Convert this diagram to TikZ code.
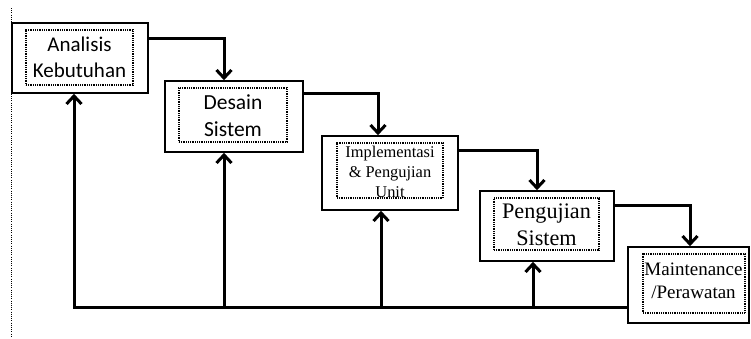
\documentclass[tikz,border=0pt]{standalone}
\usepackage{fontspec}
\newfontfamily\calfont{Carlito}
\newfontfamily\timesfont{Liberation Serif}
\usetikzlibrary{arrows.meta}
\tikzset{
  outerbox/.style={draw=black, line width=1.6pt, fill=white, rectangle, inner sep=0pt},
  innerbox/.style={draw=black, line width=1.1pt, dash pattern=on 0.9pt off 0.9pt, rectangle, inner sep=0pt},
  lbl/.style={align=center, inner sep=0pt, text=black},
  conn/.style={line width=3pt, line cap=rect},
  tip/.style={-{Straight Barb[length=8pt,width=15pt]}}
}
\begin{document}
\begin{tikzpicture}[x=1pt,y=-1pt]
\useasboundingbox (0,0) rectangle (751,338);
\draw[line width=1pt, dash pattern=on 1pt off 1.2pt] (11,8) -- (11,336);
% boxes
\node[outerbox, minimum width=136pt, minimum height=70pt] (a) at (80,58) {};
\node[innerbox, minimum width=107pt, minimum height=55pt] (ai) at (79.5,57.5) {};
\node[lbl, font=\calfont\fontsize{21}{26}\selectfont] (at) at (79.5,57) {Analisis\\Kebutuhan};

\node[outerbox, minimum width=138pt, minimum height=71pt] (b) at (234,116.5) {};
\node[innerbox, minimum width=108pt, minimum height=54pt] (bi) at (233,115) {};
\node[lbl, font=\calfont\fontsize{21.5}{26.5}\selectfont] (bt) at (233,115.5) {Desain\\Sistem};

\node[outerbox, minimum width=136pt, minimum height=74pt] (c) at (390,173) {};
\node[innerbox, minimum width=106pt, minimum height=55pt] (ci) at (390,170.5) {};
\node[lbl, font=\timesfont\fontsize{16.4}{19.8}\selectfont] (ct) at (390,172) {Implementasi\\\& Pengujian\\Unit};

\node[outerbox, minimum width=134pt, minimum height=70pt] (d) at (547,226) {};
\node[innerbox, minimum width=105pt, minimum height=52pt] (di) at (546.5,224) {};
\node[lbl, font=\timesfont\fontsize{22.2}{27}\selectfont] (dt) at (546.5,224.5) {Pengujian\\Sistem};

\node[outerbox, minimum width=121pt, minimum height=76pt] (e) at (688.5,285) {};
\node[innerbox, minimum width=102pt, minimum height=59pt] (ei) at (694,283.5) {};
\node[lbl, font=\timesfont\fontsize{19}{23.5}\selectfont] (et) at (693.5,281) {Maintenance\\/Perawatan};

% forward connectors
\draw[conn, tip] ([yshift=20pt]a.east) -| ([xshift=-10pt]b.north);
\draw[conn, tip] ([yshift=23.5pt]b.east) -| ([xshift=-12pt]c.north);
\draw[conn, tip] ([yshift=23pt]c.east) -| ([xshift=-10pt]d.north);
\draw[conn, tip] ([yshift=21pt]d.east) -| ([xshift=1.5pt]e.north);

% feedback
\coordinate (fb) at ([yshift=-22pt]e.west);
\draw[conn, tip] (fb) -| ([xshift=-6pt]a.south);
\draw[conn, tip] ([xshift=-10pt]b.south |- fb) -- ([xshift=-10pt]b.south);
\draw[conn, tip] ([xshift=-9pt]c.south |- fb) -- ([xshift=-9pt]c.south);
\draw[conn, tip] ([xshift=-14pt]d.south |- fb) -- ([xshift=-14pt]d.south);
\end{tikzpicture}
\end{document}
